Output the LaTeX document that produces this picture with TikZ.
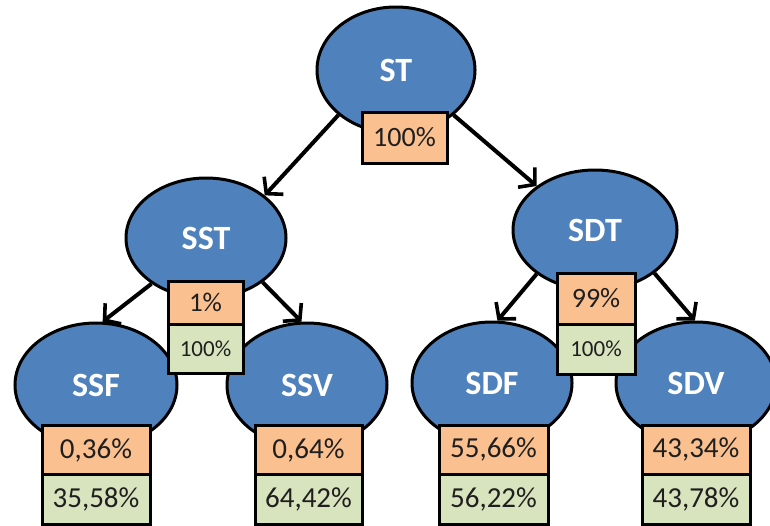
\documentclass[tikz,border=0pt]{standalone}
\usepackage{fontspec}
\setmainfont{Carlito}
\usetikzlibrary{shapes.geometric,arrows.meta}
\definecolor{nodeblue}{HTML}{4F81BD}
\definecolor{shareorange}{HTML}{FAC090}
\definecolor{sharegreen}{HTML}{D7E4BD}
\definecolor{sharetext}{HTML}{1F1F1F}
\tikzset{
  state/.style={ellipse, draw=black, line width=3pt, fill=nodeblue,
    inner sep=0pt, text=white, font=\bfseries\fontsize{34}{34}\selectfont},
  sharebox/.style={rectangle, draw=black, line width=3pt, inner sep=0pt,
    text=sharetext},
  upper/.style={sharebox, fill=shareorange},
  lower/.style={sharebox, fill=sharegreen},
  link/.style={line width=4pt, -{Straight Barb[length=11pt,width=26pt,line width=3.6pt]}}
}
\begin{document}
\begin{tikzpicture}[x=1pt,y=-1pt]
\useasboundingbox (0,0) rectangle (770,525);

% states
\node[state, minimum width=158pt, minimum height=126pt] (st)  at (396,70)  {ST};
\node[state, minimum width=160pt, minimum height=120pt] (sst) at (206,238) {SST};
\node[state, minimum width=164pt, minimum height=120pt] (sdt) at (595,230) {SDT};
\node[state, minimum width=162pt, minimum height=124pt] (ssf) at (96,385)  {SSF};
\node[state, minimum width=160pt, minimum height=124pt] (ssv) at (307,385) {SSV};
\node[state, minimum width=160pt, minimum height=122pt] (sdf) at (492,383) {SDF};
\node[state, minimum width=160pt, minimum height=122pt] (sdv) at (696,383) {SDV};

% transitions
\draw[link] (st.218)  -- (sst.36);
\draw[link] (st.322)  -- (sdt.143);
\draw[link] (sst.220) -- (ssf.84);
\draw[link] (sst.322) -- (ssv.95);
\draw[link] (sdt.217) -- (sdf.85);
\draw[link] (sdt.324) -- (sdv.91);

% shares
\node[upper, minimum width=85pt, minimum height=51pt, font=\fontsize{28}{28}\selectfont] (stA) at (404.5,137.5) {100\%};

\node[upper, minimum width=75pt, minimum height=43pt, font=\fontsize{27}{27}\selectfont] (sstA) at (205.5,302.5) {1\%};
\node[lower, minimum width=75pt, minimum height=49pt, font=\fontsize{23}{23}\selectfont] (sstB) at (205.5,348.5) {100\%};

\node[upper, minimum width=78pt, minimum height=51pt, font=\fontsize{28}{28}\selectfont] (sdtA) at (596,298.5) {99\%};
\node[lower, minimum width=78pt, minimum height=50pt, font=\fontsize{23}{23}\selectfont] (sdtB) at (596,349) {100\%};

\node[upper, minimum width=108pt, minimum height=49pt, font=\fontsize{29}{29}\selectfont] (ssfA) at (96,450)  {0,36\%};
\node[lower, minimum width=108pt, minimum height=50pt, font=\fontsize{29}{29}\selectfont] (ssfB) at (96,499.5) {35,58\%};

\node[upper, minimum width=107pt, minimum height=49pt, font=\fontsize{29}{29}\selectfont] (ssvA) at (308.5,450)  {0,64\%};
\node[lower, minimum width=107pt, minimum height=50pt, font=\fontsize{29}{29}\selectfont] (ssvB) at (308.5,499.5) {64,42\%};

\node[upper, minimum width=109pt, minimum height=49pt, font=\fontsize{29}{29}\selectfont] (sdfA) at (493.5,449.5) {55,66\%};
\node[lower, minimum width=109pt, minimum height=50pt, font=\fontsize{29}{29}\selectfont] (sdfB) at (493.5,499) {56,22\%};

\node[upper, minimum width=108pt, minimum height=49pt, font=\fontsize{29}{29}\selectfont] (sdvA) at (696,449.5) {43,34\%};
\node[lower, minimum width=108pt, minimum height=50pt, font=\fontsize{29}{29}\selectfont] (sdvB) at (696,499) {43,78\%};
\end{tikzpicture}
\end{document}
